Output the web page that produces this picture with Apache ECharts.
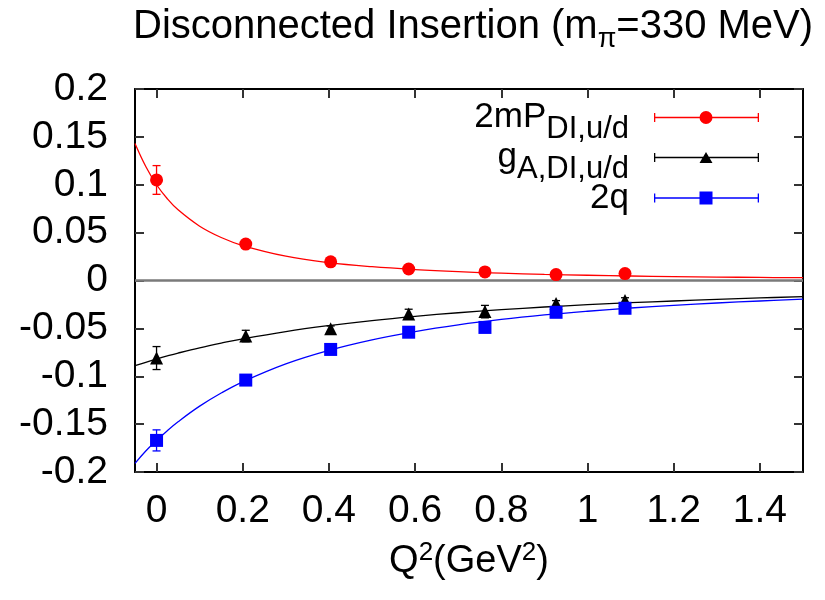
<!DOCTYPE html>
<html><head><meta charset="utf-8">
<script src="https://cdn.jsdelivr.net/npm/echarts@6/dist/echarts.min.js"></script>
<style>html,body{margin:0;padding:0;background:#fff}#c{width:825px;height:600px}</style>
</head><body><div id="c"></div>
<script>
// ---- data ----
const q2 = [0, 0.207, 0.404, 0.585, 0.762, 0.927, 1.087];
const pVal = [0.105, 0.038, 0.0195, 0.012, 0.009, 0.0062, 0.0072];
const pErr = [0.015, 0.002, 0.0015, 0.0015, 0.0015, 0.0015, 0.0015];
const gVal = [-0.081, -0.058, -0.0505, -0.035, -0.0325, -0.024, -0.021];
const gErr = [0.012, 0.006, 0.003, 0.005, 0.0065, 0.003, 0.003];
const qVal = [-0.167, -0.104, -0.072, -0.054, -0.049, -0.0332, -0.029];
const qErr = [0.011, 0.003, 0.002, 0.002, 0.002, 0.002, 0.002];
// fit curves
const fitX = [-0.05, -0.025, 0, 0.025, 0.05, 0.1, 0.15, 0.2, 0.3, 0.4, 0.5, 0.6, 0.7, 0.8, 0.9, 1.0, 1.1, 1.2, 1.3, 1.4, 1.5];
const pFit = [0.143, 0.119, 0.100, 0.0854, 0.0738, 0.0567, 0.0449, 0.0365, 0.0254, 0.0187, 0.0144, 0.0114, 0.0092, 0.0076, 0.0064, 0.0055, 0.0047, 0.0041, 0.0036, 0.0032, 0.0029];
const gFit = [-0.089, -0.0854, -0.082, -0.0788, -0.0758, -0.0703, -0.0654, -0.0609, -0.0533, -0.0471, -0.0418, -0.0374, -0.0337, -0.0305, -0.0277, -0.0253, -0.0232, -0.0214, -0.0197, -0.0182, -0.0169];
const qFit = [-0.191, -0.178, -0.167, -0.1568, -0.1475, -0.1312, -0.1175, -0.1058, -0.0871, -0.0730, -0.0620, -0.0534, -0.0464, -0.0407, -0.0360, -0.0321, -0.0287, -0.0259, -0.0235, -0.0214, -0.0195];
const xTicks = [0, 0.2, 0.4, 0.6, 0.8, 1, 1.2, 1.4];
const seriesNames = ['2mP', 'gA', '2q'];
const legendLabels = {
  '2mP': '{m|2mP}{s|DI,u/d}{e| }',
  'gA': '{m|g}{s|A,DI,u/d}{e| }',
  '2q': '{m|2q}{e| }'
};

const FONT = 'Liberation Sans';
const chart = echarts.init(document.getElementById('c'), null, {renderer: 'canvas'});

function pts(xs, ys) { return xs.map((x, i) => [x, ys[i]]); }
function errData(v, e) { return q2.map((x, i) => [x, v[i] - e[i], v[i] + e[i]]); }
function errRender(color) {
  return function (params, api) {
    const x = api.value(0);
    const p1 = api.coord([x, api.value(1)]);
    const p2 = api.coord([x, api.value(2)]);
    const w = 4;
    const st = {stroke: color, lineWidth: 1.3};
    return {type: 'group', children: [
      {type: 'line', shape: {x1: p1[0], y1: p1[1], x2: p2[0], y2: p2[1]}, style: st},
      {type: 'line', shape: {x1: p1[0] - w, y1: p1[1], x2: p1[0] + w, y2: p1[1]}, style: st},
      {type: 'line', shape: {x1: p2[0] - w, y1: p2[1], x2: p2[0] + w, y2: p2[1]}, style: st}
    ]};
  };
}
const barPath = 'M0 5.85 H105 V7.15 H0 Z M0 2 H1.3 V11 H0 Z M103.7 2 H105 V11 H103.7 Z';
const circIcon = 'path://' + barPath + ' M45.5 6.5 A6.5 6.5 0 1 1 58.5 6.5 A6.5 6.5 0 1 1 45.5 6.5 Z';
const triIcon = 'path://' + barPath + ' M52 1 L58.5 12 L45.5 12 Z M0 0 H0.01 V0.01 H0 Z M0 12.99 H0.01 V13 H0 Z';
const sqIcon = 'path://' + barPath + ' M45.5 0 H58.5 V13 H45.5 Z';
const legendIcons = [circIcon, triIcon, sqIcon];
const legendTops = [90, 130, 180.5];

const axisLineStyle = {color: '#000', width: 2};
const tickStyle = {color: '#333', width: 2};
const legendText = {
  fontFamily: FONT, fontSize: 35, color: '#000',
  rich: {
    m: {fontFamily: FONT, fontSize: 35, lineHeight: 60, color: '#000'},
    s: {fontFamily: FONT, fontSize: 31, lineHeight: 10, padding: [24, 0, 0, 0], color: '#000'},
    e: {width: 20, fontSize: 10, lineHeight: 10}
  }
};

chart.setOption({
  animation: false,
  backgroundColor: '#fff',
  title: {
    text: '{m|Disconnected Insertion (m}{s|π}{m|=330 MeV)}',
    left: 133, top: -1, padding: 0,
    textStyle: {
      fontFamily: FONT, fontWeight: 'normal', color: '#000', fontSize: 40,
      rich: {
        m: {fontFamily: FONT, fontSize: 40, lineHeight: 56, color: '#000'},
        s: {fontFamily: FONT, fontSize: 27, lineHeight: 10, padding: [26, 0, 0, 0], color: '#000'}
      }
    }
  },
  legend: seriesNames.map((n, i) => ({
    orient: 'vertical', align: 'right', right: 66, top: legendTops[i], padding: 0,
    itemWidth: 105, itemHeight: 13, itemGap: 0, selectedMode: false,
    data: [{name: n, icon: legendIcons[i]}],
    formatter: name => legendLabels[name],
    textStyle: legendText
  })),
  grid: {left: 135, right: 22, top: 89, bottom: 128, containLabel: false},
  xAxis: [{
    type: 'value', min: -0.05, max: 1.5, position: 'bottom',
    name: '{m|Q}{u|2}{m|(GeV}{u|2}{m|)}', nameLocation: 'middle', nameGap: 66,
    nameTextStyle: {
      fontFamily: FONT, fontSize: 38, color: '#000',
      rich: {
        m: {fontFamily: FONT, fontSize: 38, lineHeight: 48, color: '#000'},
        u: {fontFamily: FONT, fontSize: 26, lineHeight: 10, padding: [0, 0, 18, 0], color: '#000'}
      }
    },
    axisLine: {show: true, onZero: false, lineStyle: axisLineStyle},
    axisTick: {show: true, inside: true, length: 9, lineStyle: tickStyle, customValues: xTicks},
    axisLabel: {show: true, fontFamily: FONT, fontSize: 39, color: '#000', margin: 20, customValues: xTicks},
    splitLine: {show: false}
  }, {
    type: 'value', min: -0.05, max: 1.5, position: 'top',
    axisLine: {show: true, onZero: false, lineStyle: axisLineStyle},
    axisTick: {show: true, inside: true, length: 9, lineStyle: tickStyle, customValues: xTicks},
    axisLabel: {show: false, customValues: xTicks},
    splitLine: {show: false}
  }],
  yAxis: [{
    type: 'value', min: -0.2, max: 0.2, interval: 0.05, position: 'left',
    axisLine: {show: true, onZero: false, lineStyle: axisLineStyle},
    axisTick: {show: true, inside: true, length: 9, lineStyle: tickStyle},
    axisLabel: {show: true, fontFamily: FONT, fontSize: 39, color: '#000', margin: 27,
      formatter: v => String(Math.round(v * 100) / 100)},
    splitLine: {show: false}
  }, {
    type: 'value', min: -0.2, max: 0.2, interval: 0.05, position: 'right',
    axisLine: {show: true, onZero: false, lineStyle: axisLineStyle},
    axisTick: {show: true, inside: true, length: 9, lineStyle: tickStyle},
    axisLabel: {show: false},
    splitLine: {show: false}
  }],
  series: [
    {
      name: 'zero', type: 'line', data: [], silent: true,
      markLine: {silent: true, symbol: 'none', label: {show: false},
        lineStyle: {color: '#7a7a7a', width: 2.5, type: 'solid'}, data: [{yAxis: 0}]}
    },
    {name: 'fitP', type: 'line', data: pts(fitX, pFit), smooth: 0.4, showSymbol: false, silent: true,
      lineStyle: {color: '#ff0000', width: 1.3}, z: 3},
    {name: 'fitG', type: 'line', data: pts(fitX, gFit), smooth: 0.4, showSymbol: false, silent: true,
      lineStyle: {color: '#000000', width: 1.3}, z: 3},
    {name: 'fitQ', type: 'line', data: pts(fitX, qFit), smooth: 0.4, showSymbol: false, silent: true,
      lineStyle: {color: '#0000ff', width: 1.3}, z: 3},
    {name: 'errP', type: 'custom', data: errData(pVal, pErr), renderItem: errRender('#ff0000'), silent: true, z: 4},
    {name: 'errG', type: 'custom', data: errData(gVal, gErr), renderItem: errRender('#000000'), silent: true, z: 4},
    {name: 'errQ', type: 'custom', data: errData(qVal, qErr), renderItem: errRender('#0000ff'), silent: true, z: 4},
    {name: seriesNames[0], type: 'scatter', data: pts(q2, pVal), symbol: 'circle', symbolSize: 13,
      itemStyle: {color: '#ff0000', opacity: 1}, z: 5},
    {name: seriesNames[1], type: 'scatter', data: pts(q2, gVal), symbol: 'triangle', symbolSize: 13,
      itemStyle: {color: '#000000', opacity: 1}, z: 5},
    {name: seriesNames[2], type: 'scatter', data: pts(q2, qVal), symbol: 'rect', symbolSize: 13,
      itemStyle: {color: '#0000ff', opacity: 1}, z: 5}
  ]
});
</script>
</body></html>
